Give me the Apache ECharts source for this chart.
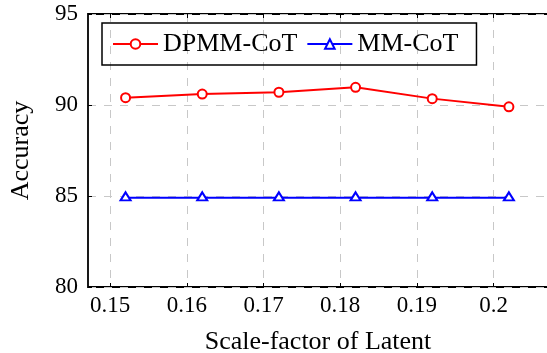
<!DOCTYPE html>
<html>
<head>
<meta charset="utf-8">
<script src="https://cdn.jsdelivr.net/npm/echarts@6/dist/echarts.min.js"></script>
<style>
html,body{margin:0;padding:0;background:#fff;}
#chart{width:547px;height:353px;}
</style>
</head>
<body>
<div id="chart"></div>
<script>
var scaleFactors = [0.152, 0.162, 0.172, 0.182, 0.192, 0.202];
var dpmmCoT = [90.4, 90.6, 90.7, 90.97, 90.35, 89.9];
var mmCoT = [84.9, 84.9, 84.9, 84.9, 84.9, 84.9];
var xTicks = [0.15, 0.16, 0.17, 0.18, 0.19, 0.2];
var xTickLabels = ['0.15', '0.16', '0.17', '0.18', '0.19', '0.2'];

var FONT = 'Liberation Serif';

function pairs(xs, ys) { return xs.map(function (x, i) { return [x, ys[i]]; }); }
function xLabel(v) {
  for (var i = 0; i < xTicks.length; i++) if (Math.abs(xTicks[i] - v) < 1e-6) return xTickLabels[i];
  return '';
}

var chart = echarts.init(document.getElementById('chart'), null, {renderer: 'canvas'});
chart.setOption({
  animation: false,
  backgroundColor: '#fff',
  textStyle: {fontFamily: FONT, color: '#000'},
  grid: {left: 88, top: 14, right: -1, bottom: 66, containLabel: false, outerBoundsMode: 'none',
         show: true, borderColor: '#000', borderWidth: 1.8, backgroundColor: 'transparent'},
  legend: {
    left: 102, top: 23,
    itemWidth: 45, itemHeight: 12, itemGap: 9,
    padding: [8, 18, 8, 10],
    borderColor: '#000', borderWidth: 1.5,
    textStyle: {fontSize: 26, fontFamily: FONT, color: '#000'},
    data: ['DPMM-CoT', 'MM-CoT']
  },
  xAxis: [{
    type: 'value', position: 'bottom', min: 0.1471, max: 0.2071,
    axisLine: {show: false},
    axisTick: {show: true, inside: true, length: 4, customValues: xTicks, lineStyle: {color: '#000', width: 1}},
    axisLabel: {customValues: xTicks, formatter: xLabel, fontSize: 23, fontFamily: FONT, color: '#000', margin: 7},
    splitLine: {show: true, lineStyle: {type: [8, 8], color: '#c8c8c8', width: 1}},
    name: 'Scale-factor of Latent', nameLocation: 'middle', nameGap: 42,
    nameTextStyle: {fontSize: 26, fontFamily: FONT, color: '#000'}
  }, {
    type: 'value', position: 'top', min: 0.1471, max: 0.2071,
    axisLine: {show: false},
    axisTick: {show: true, inside: true, length: 4, customValues: xTicks, lineStyle: {color: '#000', width: 1}},
    axisLabel: {show: false},
    splitLine: {show: false}
  }],
  yAxis: {
    type: 'value', min: 80, max: 95, interval: 5,
    axisLine: {show: false},
    axisTick: {show: true, inside: true, length: 4, lineStyle: {color: '#000', width: 1}},
    axisLabel: {fontSize: 23, fontFamily: FONT, color: '#000', margin: 10},
    splitLine: {show: true, lineStyle: {type: [8, 8], color: '#c8c8c8', width: 1}},
    name: 'Accuracy', nameLocation: 'middle', nameGap: 54,
    nameTextStyle: {fontSize: 26, fontFamily: FONT, color: '#000'}
  },
  series: [{
    name: 'DPMM-CoT', type: 'line', xAxisIndex: 0,
    data: pairs(scaleFactors, dpmmCoT),
    symbol: 'emptyCircle', symbolSize: 9,
    itemStyle: {color: '#ff0000', borderWidth: 2},
    lineStyle: {color: '#ff0000', width: 2}
  }, {
    name: 'MM-CoT', type: 'line', xAxisIndex: 0,
    data: pairs(scaleFactors, mmCoT),
    symbol: 'emptyTriangle', symbolSize: [10, 8], symbolOffset: [0, -1.5],
    itemStyle: {color: '#0000ff', borderWidth: 2},
    lineStyle: {color: '#0000ff', width: 2}
  }]
});
</script>
</body>
</html>
